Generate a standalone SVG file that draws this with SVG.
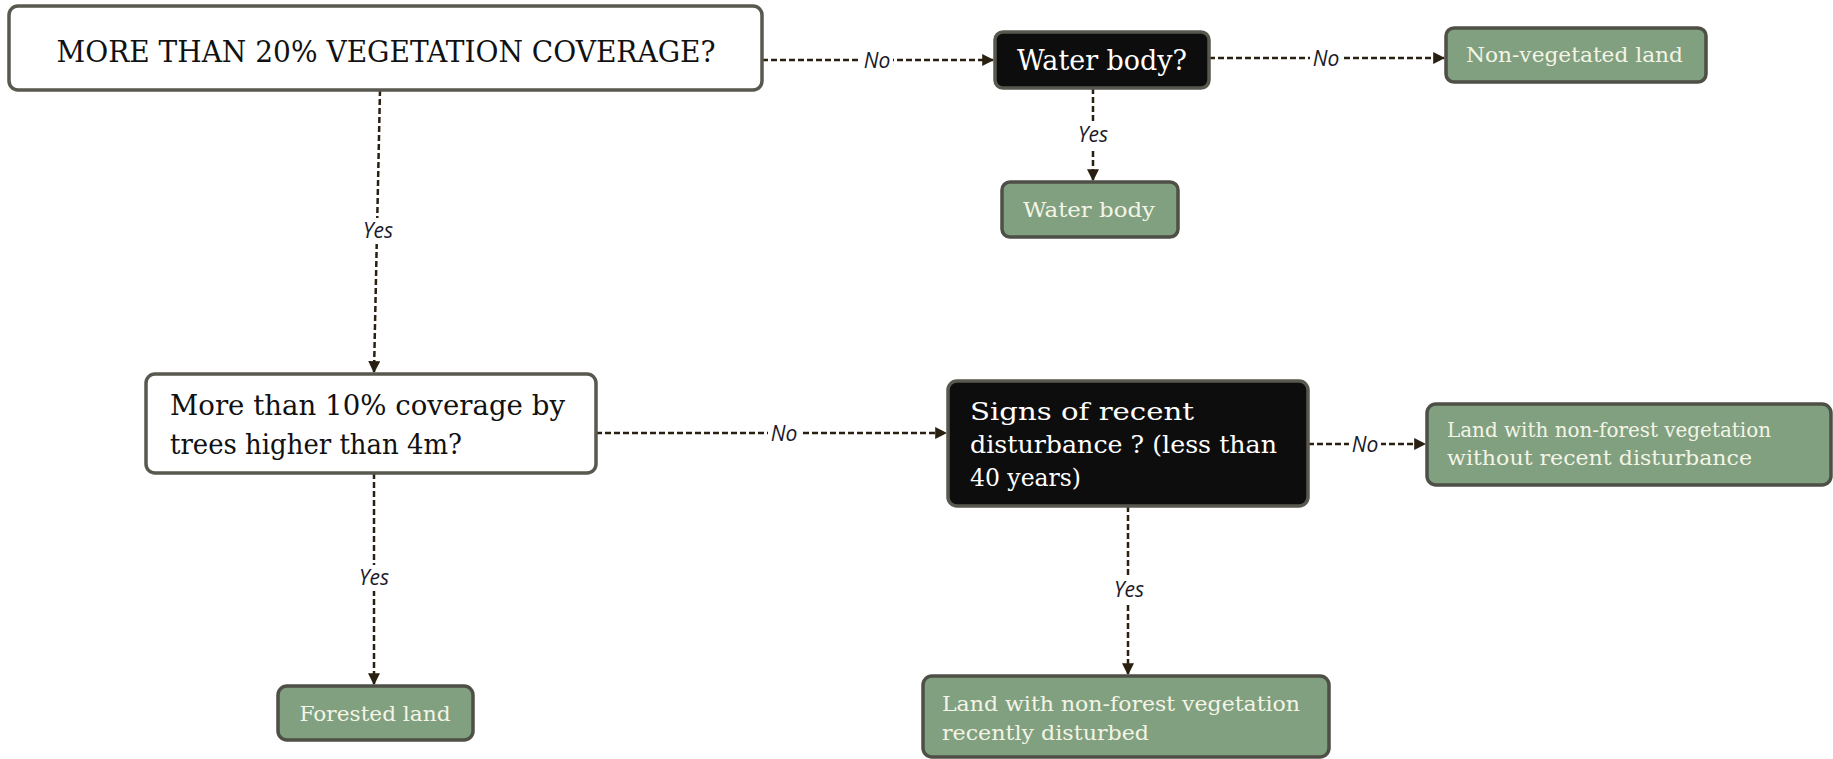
<svg xmlns="http://www.w3.org/2000/svg" width="1833" height="759" viewBox="0 0 1833 759">
<defs>
<marker id="arr" viewBox="0 0 10 10" refX="9" refY="5" markerWidth="12" markerHeight="12" orient="auto" markerUnits="userSpaceOnUse">
<path d="M0,0 L10,5 L0,10 z" fill="#2a2012"/>
</marker>
<style>
.q{fill:#ffffff;stroke:#58584f;stroke-width:3.5}
.d{fill:#0d0d0d;stroke:#58584f;stroke-width:3.5}
.g{fill:#80a07f;stroke:#4e4f46;stroke-width:3.5}
.tq{font-family:"DejaVu Serif","Liberation Serif",serif;fill:#111}
.td{font-family:"DejaVu Serif","Liberation Serif",serif;fill:#ffffff}
.tg{font-family:"DejaVu Serif","Liberation Serif",serif;fill:#f4f4e6;font-size:21px}
.c{fill:none;stroke:#2a2012;stroke-width:2.5;stroke-dasharray:6 3}
.lb{font-family:"Open Sans","DejaVu Sans",sans-serif;font-style:italic;font-size:21px;fill:#1a1a2a;text-anchor:middle}
.bg{fill:#ffffff}
</style>
</defs>
<rect width="1833" height="759" fill="#ffffff"/>
<g id="connectors">
<path class="c" d="M762,60 L993,60" marker-end="url(#arr)"/>
<path class="c" d="M1209,58 L1444,58" marker-end="url(#arr)"/>
<path class="c" d="M1093,88 L1093,180" marker-end="url(#arr)"/>
<path class="c" d="M380,90 L374,372" marker-end="url(#arr)"/>
<path class="c" d="M596,433 L946,433" marker-end="url(#arr)"/>
<path class="c" d="M1308,444 L1425,444" marker-end="url(#arr)"/>
<path class="c" d="M1128,506 L1128,674" marker-end="url(#arr)"/>
<path class="c" d="M374,473 L374,684" marker-end="url(#arr)"/>
<rect class="bg" x="861" y="48" width="32" height="24"/><text class="lb" x="877" y="68">No</text>
<rect class="bg" x="1310" y="46" width="32" height="24"/><text class="lb" x="1326" y="66">No</text>
<rect class="bg" x="1072" y="122" width="42" height="26"/><text class="lb" x="1093" y="142">Yes</text>
<rect class="bg" x="357" y="218" width="42" height="26"/><text class="lb" x="378" y="238">Yes</text>
<rect class="bg" x="768" y="421" width="32" height="24"/><text class="lb" x="784" y="441">No</text>
<rect class="bg" x="1349" y="432" width="32" height="24"/><text class="lb" x="1365" y="452">No</text>
<rect class="bg" x="1108" y="577" width="42" height="26"/><text class="lb" x="1129" y="597">Yes</text>
<rect class="bg" x="353" y="565" width="42" height="26"/><text class="lb" x="374" y="585">Yes</text>
</g>
<g id="n_veg20">
<rect class="q" x="9" y="6" width="753" height="84" rx="9"/>
<text class="tq" x="386" y="62" font-size="30" text-anchor="middle" textLength="659" lengthAdjust="spacingAndGlyphs">MORE THAN 20% VEGETATION COVERAGE?</text>
</g>
<g id="n_waterq">
<rect class="d" x="995" y="32" width="214" height="56" rx="8"/>
<text class="td" x="1102" y="70" font-size="27" text-anchor="middle" textLength="170" lengthAdjust="spacingAndGlyphs">Water body?</text>
</g>
<g id="n_nonveg">
<rect class="g" x="1446" y="28" width="260" height="54" rx="8"/>
<text class="tg" x="1466" y="62" font-size="24" textLength="217" lengthAdjust="spacingAndGlyphs">Non-vegetated land</text>
</g>
<g id="n_water">
<rect class="g" x="1002" y="182" width="176" height="55" rx="8"/>
<text class="tg" x="1089" y="217" font-size="23" text-anchor="middle" textLength="132" lengthAdjust="spacingAndGlyphs">Water body</text>
</g>
<g id="n_trees">
<rect class="q" x="146" y="374" width="450" height="99" rx="9"/>
<text class="tq" font-size="27"><tspan x="170" y="415" textLength="395" lengthAdjust="spacingAndGlyphs">More than 10% coverage by</tspan><tspan x="170" y="454" textLength="292" lengthAdjust="spacingAndGlyphs">trees higher than 4m?</tspan></text>
</g>
<g id="n_disturb">
<rect class="d" x="948" y="381" width="360" height="125" rx="9"/>
<text class="td" font-size="25"><tspan x="970" y="420" textLength="224" lengthAdjust="spacingAndGlyphs">Signs of recent</tspan><tspan x="970" y="453" textLength="307" lengthAdjust="spacingAndGlyphs">disturbance ? (less than</tspan><tspan x="970" y="486" textLength="111" lengthAdjust="spacingAndGlyphs">40 years)</tspan></text>
</g>
<g id="n_nodist">
<rect class="g" x="1427" y="404" width="404" height="81" rx="9"/>
<text class="tg"><tspan x="1447" y="437" textLength="324" lengthAdjust="spacingAndGlyphs">Land with non-forest vegetation</tspan><tspan x="1447" y="465" textLength="305" lengthAdjust="spacingAndGlyphs">without recent disturbance</tspan></text>
</g>
<g id="n_forest">
<rect class="g" x="278" y="686" width="195" height="54" rx="9"/>
<text class="tg" x="375" y="721" font-size="22" text-anchor="middle" textLength="151" lengthAdjust="spacingAndGlyphs">Forested land</text>
</g>
<g id="n_recent">
<rect class="g" x="923" y="676" width="406" height="81" rx="9"/>
<text class="tg"><tspan x="942" y="711" textLength="358" lengthAdjust="spacingAndGlyphs">Land with non-forest vegetation</tspan><tspan x="942" y="740" textLength="207" lengthAdjust="spacingAndGlyphs">recently disturbed</tspan></text>
</g>
</svg>
